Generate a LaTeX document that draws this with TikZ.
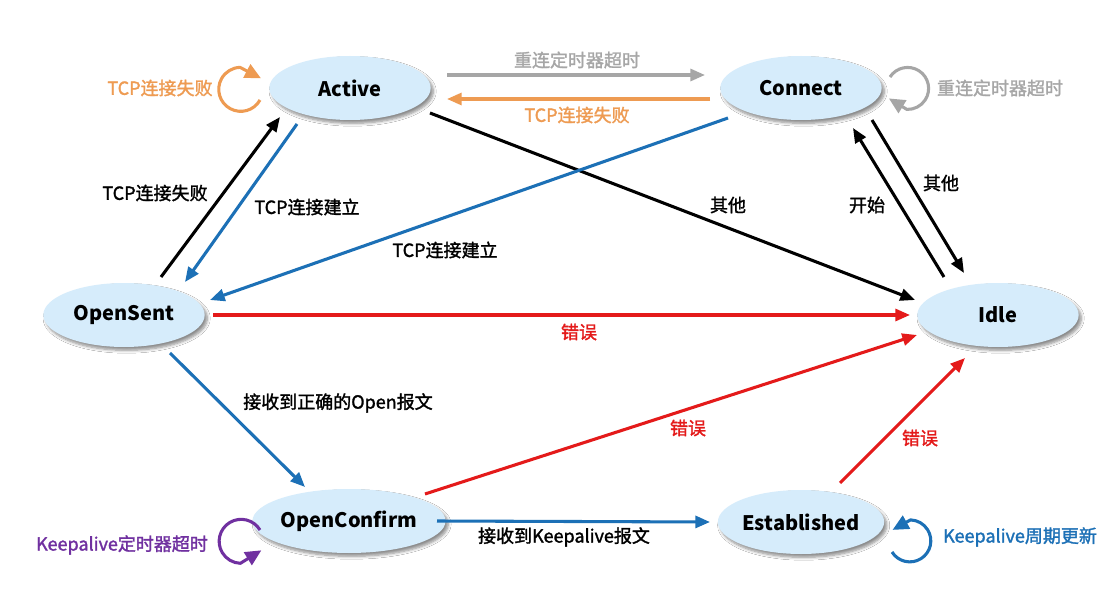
\documentclass[tikz,border=0pt]{standalone}
\usepackage{fontspec}
\setmainfont{Noto Sans CJK SC}
\newfontfamily\labfont{Noto Sans CJK SC}[FakeBold=1.6]
\usetikzlibrary{arrows.meta,shapes.geometric,shadows.blur}
\definecolor{stfill}{HTML}{D6ECFB}
\definecolor{cgray}{HTML}{A6A6A6}
\definecolor{corange}{HTML}{EE9B52}
\definecolor{cblue}{HTML}{1C70B6}
\definecolor{cred}{HTML}{E41A1A}
\definecolor{cpurple}{HTML}{7030A0}
\tikzset{
  state/.style={ellipse, fill=stfill, inner sep=0pt, minimum width=121pt, minimum height=48pt,
    font=\fontsize{15}{18}\selectfont\bfseries,
    blur shadow={shadow xshift=2pt, shadow yshift=-2.5pt, shadow blur steps=6, shadow opacity=45}},
  conn/.style={line width=2.3pt, -{Triangle[length=11pt,width=9pt]}},
  loopconn/.style={line width=2.3pt, line join=round, -{Triangle[length=12pt,width=11pt]}},
  lab/.style={font=\fontsize{13.5}{16}\labfont, inner sep=1pt},
}
\begin{document}
\begin{tikzpicture}[x=0.75pt,y=0.75pt]
\useasboundingbox (0,0) rectangle (1115,612);
\fill[white] (0,0) rectangle (1115,612);
% states
\node[state] (Active) at (350,524) {Active};
\node[state] (Connect) at (801,524) {Connect};
\node[state] (OpenSent) at (124,297) {OpenSent};
\node[state] (Idle) at (998,297) {Idle};
\node[state] (OpenConfirm) at (349,91) {OpenConfirm};
\node[state] (Established) at (801,90) {Established};
% connectors
\draw[conn, cgray] ([shift={(97,13)}]Active.center) -- ([shift={(-96,13)}]Connect.center);
\draw[conn, corange] ([shift={(-91,-11)}]Connect.center) -- ([shift={(97,-11)}]Active.center);
\draw[conn, black] ([shift={(80,-25)}]Active.center) -- ([shift={(-83,15)}]Idle.center);
\draw[conn, cblue] ([shift={(-73,-30)}]Connect.center) -- ([shift={(86,15)}]OpenSent.center);
\draw[conn, black] ([shift={(37,38)}]OpenSent.center) -- ([shift={(-70,-29)}]Active.center);
\draw[conn, cblue] ([shift={(-53,-36)}]Active.center) -- ([shift={(61,33)}]OpenSent.center);
\draw[conn, black] ([shift={(71,-32)}]Connect.center) -- ([shift={(-34,42)}]Idle.center);
\draw[conn, black] ([shift={(-54,38)}]Idle.center) -- ([shift={(52,-40)}]Connect.center);
\draw[conn, cred] ([shift={(89,0)}]OpenSent.center) -- ([shift={(-88,0)}]Idle.center);
\draw[conn, cblue] ([shift={(46,-38)}]OpenSent.center) -- ([shift={(-44,34)}]OpenConfirm.center);
\draw[conn, cred] ([shift={(76,27)}]OpenConfirm.center) -- ([shift={(-81,-20)}]Idle.center);
\draw[conn, cred] ([shift={(39,39)}]Established.center) -- ([shift={(-33,-43)}]Idle.center);
\draw[conn, cblue] ([shift={(88,0)}]OpenConfirm.center) -- ([shift={(-91,0)}]Established.center);
% self loops
\draw[loopconn, corange] ([shift={(-90,-12)}]Active.center) arc[start angle=-29, end angle=-268, radius=22] -- ++(21,-11);
\draw[loopconn, cgray] ([shift={(89,11)}]Connect.center) arc[start angle=147, end angle=-92, radius=21] -- ++(-18,11);
\draw[loopconn, cpurple] ([shift={(-89,-9)}]OpenConfirm.center) arc[start angle=31, end angle=268, radius=22] -- ++(21,13);
\draw[loopconn, cblue] ([shift={(91,-30)}]Established.center) arc[start angle=-148, end angle=88, radius=21] -- ++(-18,-10);
% labels
\node[lab, text=cgray] (l1) at (577,552) {重连定时器超时};
\node[lab, text=corange] (l2) at (577,497) {TCP连接失败};
\node[lab] (l3) at (728,407) {其他};
\node[lab] (l4) at (445,362) {TCP连接建立};
\node[lab] (l5) at (155,419) {TCP连接失败};
\node[lab] (l6) at (307,405) {TCP连接建立};
\node[lab] (l7) at (941,429) {其他};
\node[lab] (l8) at (867,407) {开始};
\node[lab, text=cred] (l9) at (579,280) {错误};
\node[lab] (l10) at (338,209) {接收到正确的Open报文};
\node[lab, text=cred] (l11) at (688,184) {错误};
\node[lab, text=cred] (l12) at (920,174) {错误};
\node[lab] (l13) at (564,75) {接收到Keepalive报文};
\node[lab, text=corange] (l14) at (160,524) {TCP连接失败};
\node[lab, text=cgray] (l15) at (1000,524) {重连定时器超时};
\node[lab, text=cpurple] (l16) at (122,67) {Keepalive定时器超时};
\node[lab, text=cblue] (l17) at (1020,75) {Keepalive周期更新};
\end{tikzpicture}
\end{document}
